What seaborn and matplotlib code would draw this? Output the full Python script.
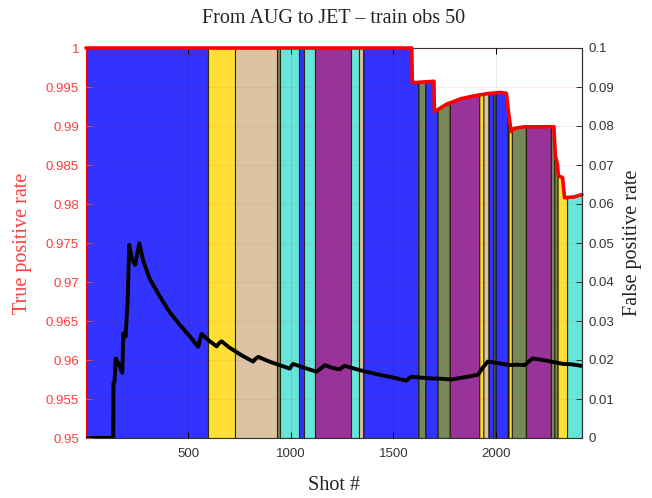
import numpy as np
import pandas as pd
import matplotlib
matplotlib.use("Agg")
import matplotlib.pyplot as plt
import seaborn as sns

# ---------------- data ----------------
# band boundaries (shot #) and the class of each band
band_bounds = [1, 594, 730, 933, 946, 1038, 1062, 1118, 1294, 1331, 1354, 1622, 1656,
               1716, 1775, 1919, 1939, 1964, 1988, 1998, 2058, 2062, 2078, 2146, 2268,
               2285, 2301, 2347, 2420]
band_class = ["blue", "yellow", "tan", "olive", "cyan", "blue", "cyan", "purple", "cyan",
              "tan", "blue", "olive", "blue", "olive", "purple", "yellow", "tan", "blue",
              "olive", "blue", "olive", "yellow", "olive", "purple", "olive", "olive",
              "yellow", "cyan"]

# true positive rate (left axis)
tpr_shot = [1, 1590, 1592, 1698, 1700, 1760, 1830, 1900, 1960, 2018, 2051, 2062, 2075,
            2090, 2140, 2283, 2290, 2300, 2305, 2325, 2335, 2380, 2420]
tpr = [1.0, 1.0, 0.99555, 0.99573, 0.99183, 0.9928, 0.9935, 0.9939, 0.99415, 0.9943,
       0.9942, 0.99167, 0.98927, 0.9897, 0.9899, 0.9899, 0.9862, 0.9851, 0.9836, 0.9834,
       0.9808, 0.9809, 0.9812]

# false positive rate (right axis)
fpr_shot = [1, 134, 135, 140, 146, 160, 178, 183, 194, 204, 212, 225, 241, 250, 261, 280,
            310, 362, 410, 459, 505, 548, 556, 565, 600, 638, 650, 662, 700, 760, 816, 828,
            841, 900, 995, 1003, 1011, 1060, 1125, 1145, 1166, 1200, 1239, 1250, 1263, 1336,
            1434, 1500, 1564, 1576, 1588, 1630, 1677, 1730, 1783, 1850, 1913, 1935, 1961,
            2010, 2067, 2100, 2140, 2160, 2180, 2250, 2327, 2370, 2416]
fpr = [0, 0, 0.014, 0.0145, 0.0204, 0.019, 0.0167, 0.0268, 0.026, 0.035, 0.0495, 0.046,
       0.0444, 0.047, 0.0499, 0.0455, 0.041, 0.0362, 0.0322, 0.029, 0.0262, 0.0234, 0.025,
       0.0267, 0.025, 0.0235, 0.0243, 0.0248, 0.0232, 0.0212, 0.0196, 0.0203, 0.0208,
       0.0195, 0.0178, 0.0185, 0.019, 0.0181, 0.017, 0.0178, 0.0187, 0.018, 0.0176, 0.0181,
       0.0185, 0.0174, 0.0162, 0.0155, 0.0147, 0.0153, 0.0157, 0.0155, 0.0153, 0.0152,
       0.015, 0.0156, 0.0162, 0.018, 0.0196, 0.0192, 0.0187, 0.0188, 0.0187, 0.0196,
       0.0204, 0.0198, 0.019, 0.0189, 0.0185]

x_ticks = [500, 1000, 1500, 2000]
tpr_ticks = [0.95, 0.955, 0.96, 0.965, 0.97, 0.975, 0.98, 0.985, 0.99, 0.995, 1.0]
tpr_tick_labels = ["0.95", "0.955", "0.96", "0.965", "0.97", "0.975", "0.98", "0.985",
                   "0.99", "0.995", "1"]
fpr_ticks = [0, 0.01, 0.02, 0.03, 0.04, 0.05, 0.06, 0.07, 0.08, 0.09, 0.1]
fpr_tick_labels = ["0", "0.01", "0.02", "0.03", "0.04", "0.05", "0.06", "0.07", "0.08",
                   "0.09", "0.1"]

title = "From AUG to JET \u2013 train obs 50"
xlabel = "Shot #"
ylabel_left = "True positive rate"
ylabel_right = "False positive rate"

# ---------------- style ----------------
sns.set_theme(style="white")
plt.rcParams["font.family"] = ["Liberation Sans", "DejaVu Sans"]
serif = ["Liberation Serif", "DejaVu Serif"]

class_colors = {
    "blue": (0.0, 0.0, 1.0),
    "yellow": (1.0, 0.843, 0.0),
    "tan": (0.824, 0.706, 0.549),
    "cyan": (0.251, 0.878, 0.816),
    "purple": (0.5, 0.0, 0.5),
    "olive": (0.333, 0.42, 0.184),
}
RED_TXT = "#ff3c3c"

fig = plt.figure(figsize=(6.52, 4.98), dpi=100)
ax = fig.add_axes([86 / 652, 1 - 438 / 498, (582 - 86) / 652, (438 - 48) / 498])

ts = np.asarray(tpr_shot, float)
tv = np.asarray(tpr, float)
for i, cls in enumerate(band_class):
    s, e = band_bounds[i], band_bounds[i + 1]
    inner = ts[(ts > s) & (ts < e)]
    xs = np.concatenate([[s], inner, [e]])
    ys = np.interp(xs, ts, tv)
    ax.fill_between(xs, 0.95, ys, facecolor=class_colors[cls], alpha=0.8,
                    edgecolor=(0.1, 0.1, 0.0), linewidth=0.8, zorder=1)

tpr_df = pd.DataFrame({"shot": tpr_shot, "tpr": tpr})
sns.lineplot(data=tpr_df, x="shot", y="tpr", ax=ax, color="red", linewidth=2.6,
             estimator=None, zorder=4, clip_on=False)

ax.set_xlim(1, 2420)
ax.set_ylim(0.95, 1.0)
ax.set_xticks(x_ticks)
ax.set_xticklabels([str(t) for t in x_ticks])
ax.set_yticks(tpr_ticks)
ax.set_yticklabels(tpr_tick_labels)
ax.set_axisbelow(False)
ax.xaxis.grid(True, color="black", alpha=0.09, linewidth=0.7)
ax.yaxis.grid(True, color="red", alpha=0.08, linewidth=0.7)
ax.tick_params(axis="x", direction="in", top=True, bottom=True, length=4, width=0.7,
               labelsize=9.5, colors="black", pad=7)
ax.tick_params(axis="y", direction="in", length=4, width=0.7, labelsize=9.5,
               colors=RED_TXT, pad=5)
for lbl in ax.get_xticklabels():
    lbl.set_color("#333333")
ax.set_xlabel(xlabel, fontsize=14.5, family=serif, color="#222222", labelpad=12)
ax.set_ylabel(ylabel_left, fontsize=14.5, family=serif, color=RED_TXT, labelpad=10)
ax.set_title(title, fontsize=14.5, family=serif, color="#222222", pad=18)

ax2 = ax.twinx()
fpr_df = pd.DataFrame({"shot": fpr_shot, "fpr": fpr})
sns.lineplot(data=fpr_df, x="shot", y="fpr", ax=ax2, color="black", linewidth=2.8,
             estimator=None, zorder=5)
ax2.set_ylim(0, 0.1)
ax2.set_yticks(fpr_ticks)
ax2.set_yticklabels(fpr_tick_labels)
ax2.tick_params(axis="y", direction="in", length=4, width=0.7, labelsize=9.5,
                colors="#333333", pad=5)
ax2.set_ylabel(ylabel_right, fontsize=14.5, family=serif, color="#222222", labelpad=6)
ax2.set_xlabel("")

for sp in ["top", "right", "bottom"]:
    ax.spines[sp].set_color("#333333")
    ax.spines[sp].set_linewidth(0.8)
ax.spines["left"].set_color("red")
ax.spines["left"].set_linewidth(0.8)
ax2.spines["left"].set_visible(False)
ax2.spines["top"].set_visible(False)
ax2.spines["bottom"].set_visible(False)
ax2.spines["right"].set_color("#333333")
ax2.spines["right"].set_linewidth(0.8)

fig.savefig("out.png", dpi=100)
